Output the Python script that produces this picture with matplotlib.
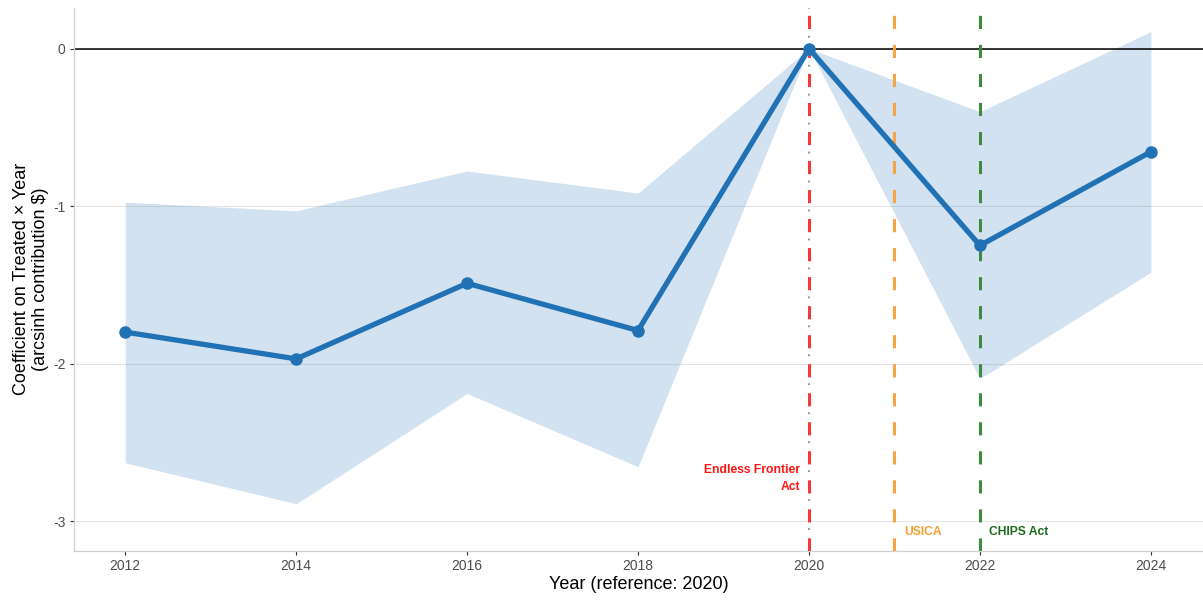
import matplotlib
matplotlib.use('Agg')
import matplotlib.pyplot as plt
import numpy as np

plt.rcParams['font.family'] = ['Liberation Sans', 'DejaVu Sans']

# Event-study coefficients (reference year 2020 normalised to 0)
years = [2012, 2014, 2016, 2018, 2020, 2022, 2024]
coef = [-1.80, -1.97, -1.49, -1.79, 0.0, -1.25, -0.655]
ci_low = [-2.63, -2.89, -2.19, -2.655, 0.0, -2.095, -1.42]
ci_high = [-0.975, -1.03, -0.777, -0.917, 0.0, -0.40, 0.108]

# Policy events marked on the timeline
event_years = [2020, 2021, 2022]
event_labels = ['Endless Frontier\nAct', 'USICA', 'CHIPS Act']
event_line_colors = ['#f23838', '#f7a445', '#3d8c3d']
event_text_colors = ['#ff1414', '#f5a033', '#1e6b1e']

LINE_BLUE = '#2171b5'

fig = plt.figure(figsize=(12.03, 6.01), dpi=100)
ax = fig.add_axes([0.0615, 0.0832, 0.9385, 0.904])

ax.fill_between(years, ci_low, ci_high, color=LINE_BLUE, alpha=0.2, linewidth=0, zorder=1)
ax.axhline(0, color='black', linewidth=1.1, zorder=2)

# reference-year dotted marker, dots fall in the gaps of the dashed event lines
ax.axvline(2020, color='#9a9a9a', linewidth=1.5, linestyle=(-10.1, (0.9, 13.0)), zorder=2)
for x, c in zip(event_years, event_line_colors):
    ax.axvline(x, color=c, linewidth=2.2, linestyle=(0, (4.3, 5.2)), zorder=3)

ax.plot(years, coef, color=LINE_BLUE, linewidth=3.8, marker='o', markersize=8, zorder=4)

# event annotations near the bottom of the panel
ax.text(2019.90, -2.73, event_labels[0], color=event_text_colors[0], fontsize=8.7,
        fontweight='bold', ha='right', va='center', linespacing=1.65)
ax.text(2021.11, -3.07, event_labels[1], color=event_text_colors[1], fontsize=8.7,
        fontweight='bold', ha='left', va='center')
ax.text(2022.105, -3.07, event_labels[2], color=event_text_colors[2], fontsize=8.7,
        fontweight='bold', ha='left', va='center')

ax.set_xlim(2011.40, 2024.61)
ax.set_ylim(-3.19, 0.26)
ax.set_xticks([2012, 2014, 2016, 2018, 2020, 2022, 2024])
ax.set_yticks([0, -1, -2, -3])
ax.set_yticklabels(['0', '-1', '-2', '-3'])

ax.grid(axis='y', color='#e5e5e5', linewidth=0.8, zorder=0)
ax.set_axisbelow(True)
for side in ['top', 'right']:
    ax.spines[side].set_visible(False)
for side in ['left', 'bottom']:
    ax.spines[side].set_color('#d0d0d0')
    ax.spines[side].set_linewidth(0.9)
ax.tick_params(axis='both', colors='#4d4d4d', labelsize=10, length=3, width=0.8, pad=3)
ax.tick_params(axis='both', color='#333333')

ax.set_xlabel('Year (reference: 2020)', fontsize=13, color='black', labelpad=2)
ax.set_ylabel('Coefficient on Treated \u00d7 Year\n(arcsinh contribution $)', fontsize=13,
              color='black', labelpad=3, linespacing=1.15)

fig.savefig('out.png', dpi=100)
